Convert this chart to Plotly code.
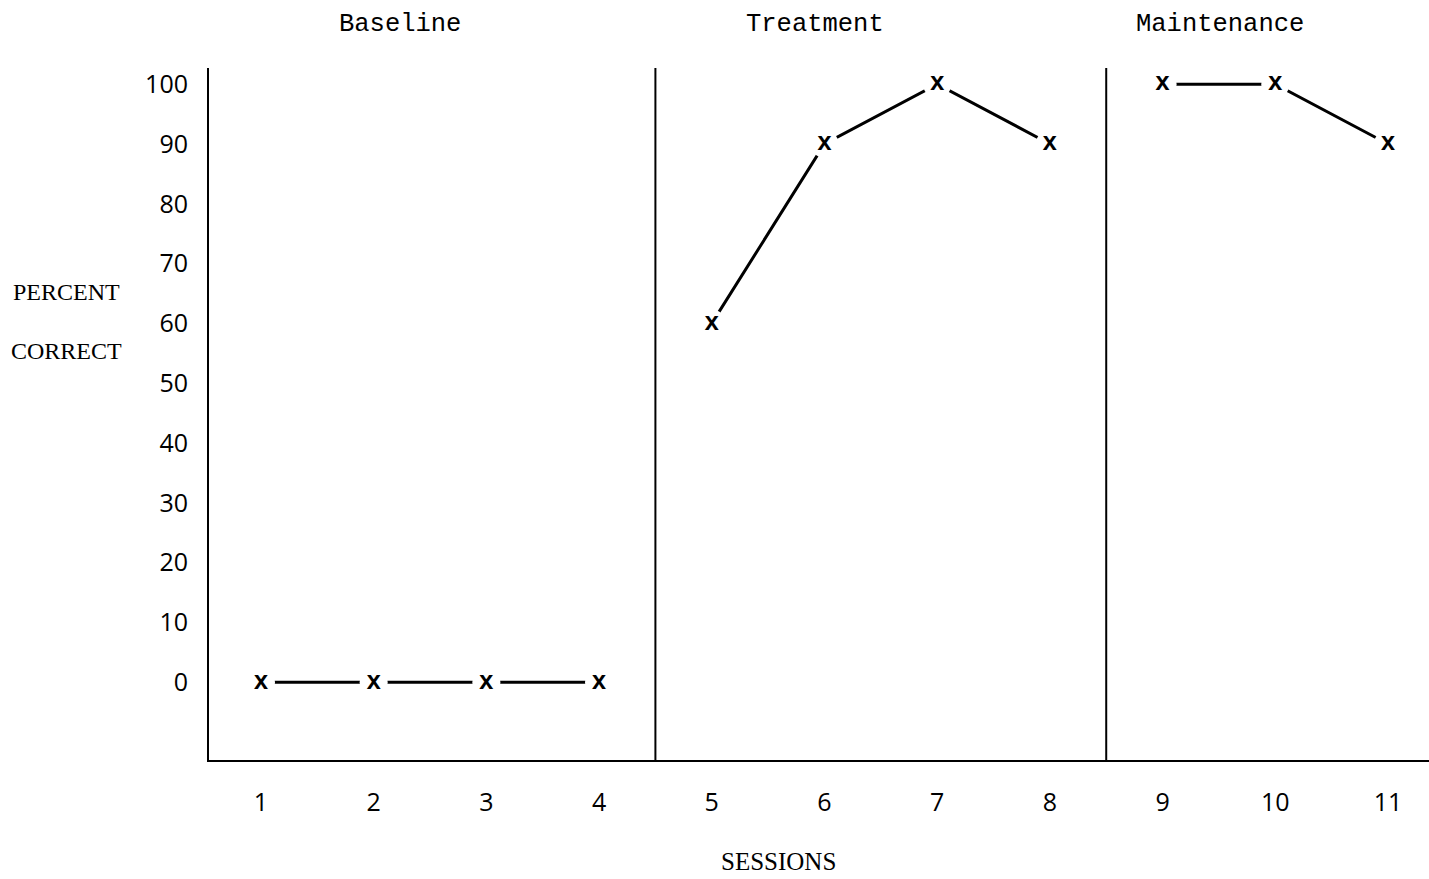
import plotly.graph_objects as go

# ---- data ----
phase_names = ["Baseline", "Treatment", "Maintenance"]
baseline_sessions = [1, 2, 3, 4]
baseline_pct = [0, 0, 0, 0]
treatment_sessions = [5, 6, 7, 8]
treatment_pct = [60, 90, 100, 90]
maintenance_sessions = [9, 10, 11]
maintenance_pct = [100, 100, 90]
phase_boundaries = [4.5, 8.5]
y_ticks = [0, 10, 20, 30, 40, 50, 60, 70, 80, 90, 100]
x_ticks = [1, 2, 3, 4, 5, 6, 7, 8, 9, 10, 11]

phases = [
    (baseline_sessions, baseline_pct),
    (treatment_sessions, treatment_pct),
    (maintenance_sessions, maintenance_pct),
]

fig = go.Figure()

# lines
for xs, ys in phases:
    fig.add_trace(go.Scatter(x=xs, y=ys, mode="lines",
                             line=dict(color="black", width=3),
                             hoverinfo="skip", showlegend=False))
# white knock-outs to leave gaps round the marks
for xs, ys in phases:
    fig.add_trace(go.Scatter(x=xs, y=ys, mode="markers",
                             marker=dict(symbol="circle", size=28, color="white",
                                         line=dict(width=0)),
                             hoverinfo="skip", showlegend=False))
# x marks
for xs, ys in phases:
    fig.add_trace(go.Scatter(x=xs, y=ys, mode="text", text=["x"] * len(xs),
                             textposition="middle center",
                             textfont=dict(family="Liberation Mono", size=25,
                                           color="black", weight="bold"),
                             showlegend=False))

# phase dividers
for b in phase_boundaries:
    fig.add_shape(type="line", xref="x", yref="paper", x0=b, x1=b, y0=0, y1=1,
                  line=dict(color="black", width=2))

# phase labels
label_x = [0.1566, 0.4967, 0.8287]
for name, lx in zip(phase_names, label_x):
    fig.add_annotation(text=name, xref="paper", yref="paper", x=lx, y=1.0635,
                       showarrow=False, xanchor="center", yanchor="middle",
                       font=dict(family="Liberation Mono", size=25.5, color="black"))

# axis titles
fig.add_annotation(text="PERCENT", xref="paper", yref="paper",
                   x=-0.1168, y=0.6763, xanchor="center", yanchor="middle",
                   showarrow=False,
                   font=dict(family="Liberation Serif", size=24, color="black"))
fig.add_annotation(text="CORRECT", xref="paper", yref="paper",
                   x=-0.1168, y=0.591, xanchor="center", yanchor="middle",
                   showarrow=False,
                   font=dict(family="Liberation Serif", size=24, color="black"))
fig.add_annotation(text="SESSIONS", xref="paper", yref="paper",
                   x=0.467, y=-0.147, xanchor="center", yanchor="middle",
                   showarrow=False,
                   font=dict(family="Liberation Serif", size=25, color="black"))

fig.update_layout(
    width=1429, height=879,
    margin=dict(l=209, r=0, t=68, b=119),
    paper_bgcolor="white", plot_bgcolor="white",
    showlegend=False,
    xaxis=dict(range=[0.539, 11.364], tickvals=x_ticks,
               ticktext=[str(v) for v in x_ticks],
               showgrid=False, zeroline=False, showline=True,
               linecolor="black", linewidth=2, ticks="",
               ticklabelstandoff=19,
               tickfont=dict(family="Open Sans", size=25, color="black")),
    yaxis=dict(range=[-13.0, 102.7], tickvals=y_ticks,
               ticktext=[str(v) for v in y_ticks],
               showgrid=False, zeroline=False, showline=True,
               linecolor="black", linewidth=2, ticks="",
               ticklabelstandoff=14,
               tickfont=dict(family="Open Sans", size=25, color="black")),
)

fig.write_html(
    "out.html",
    config={"displayModeBar": False},
    post_script="document.body.style.margin='0';document.body.style.overflow='hidden';",
)
